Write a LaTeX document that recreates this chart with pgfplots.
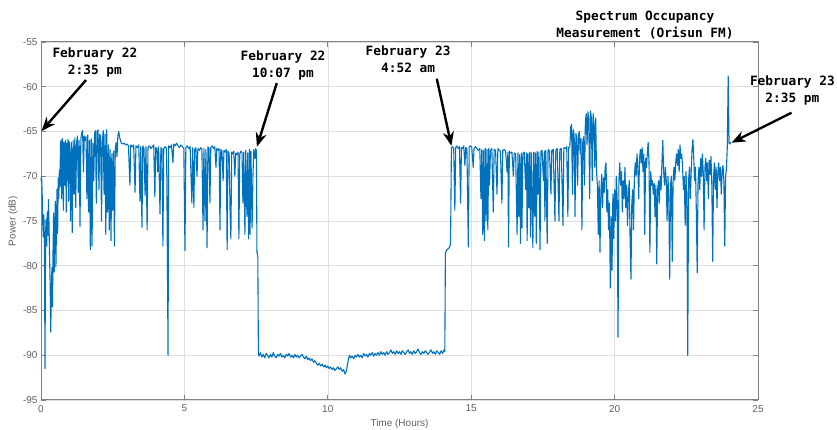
\documentclass[border=0pt]{standalone}
\usepackage{fontspec}
\setmainfont{Liberation Sans}
\newfontfamily\annofont{DejaVu Sans Mono}
\usepackage{pgfplots}
\pgfplotsset{compat=1.18}
\usetikzlibrary{arrows.meta}
\definecolor{mblue}{RGB}{0,114,189}
\definecolor{gridc}{RGB}{223,223,223}
\definecolor{axc}{RGB}{130,130,130}
\definecolor{tlc}{RGB}{95,95,95}
\begin{document}
\begin{tikzpicture}
\useasboundingbox (-41pt,-30pt) rectangle (796pt,400pt);
\begin{axis}[
  scale only axis,
  width=717pt, height=358pt,
  xmin=0, xmax=25, ymin=-95, ymax=-55,
  xtick={0,5,...,25}, ytick={-95,-90,...,-55},
  grid=major,
  major grid style={gridc, line width=0.6pt},
  axis line style={axc, line width=1pt},
  tick style={axc, line width=0.8pt},
  tick align=inside,
  major tick length=5pt,
  /pgf/number format/assume math mode=true,
  ticklabel style={font=\fontsize{10}{12}\selectfont, text=tlc},
  xticklabel style={yshift=-1.5pt},
  xlabel={Time (Hours)}, ylabel={Power (dB)},
  label style={font=\fontsize{10}{12}\selectfont, text=tlc},
  xlabel style={at={(axis description cs:0.5,-0.067)}, anchor=center},
  ylabel style={at={(axis description cs:-0.039,0.5)}, anchor=center},
  clip=false,
]
\addplot[color=mblue, line width=1.1pt, line join=round] coordinates {
(0,-70.5) (0.02,-70.0) (0.04,-71.8) (0.06,-75.2) (0.08,-76.8) (0.10,-74.3) (0.12,-77.5) (0.14,-91.5) (0.16,-76.2) (0.18,-74.8)
(0.20,-77.8) (0.22,-74.0) (0.24,-76.6) (0.26,-72.6) (0.28,-75.5) (0.30,-79.2) (0.32,-82.3) (0.34,-87.4) (0.36,-83.0) (0.38,-80.2)
(0.40,-84.6) (0.42,-78.3) (0.44,-74.1) (0.46,-80.7) (0.48,-76.2) (0.50,-72.8) (0.52,-80.1) (0.54,-75.3) (0.56,-71.4) (0.58,-76.4)
(0.60,-70.2) (0.62,-72.5) (0.64,-69.3) (0.66,-71.2) (0.68,-66.3)
(0.70,-66.0) (0.72,-72.5) (0.74,-65.8) (0.76,-66.4) (0.78,-73.8) (0.80,-66.2) (0.82,-71.0) (0.84,-66.5) (0.86,-66.0) (0.88,-74.0)
(0.90,-66.3) (0.92,-70.5) (0.94,-65.9) (0.96,-72.8) (0.98,-66.1) (1.00,-66.6) (1.03,-75.0) (1.06,-66.2) (1.09,-76.3) (1.12,-66.0)
(1.15,-72.0) (1.18,-65.7) (1.21,-73.5) (1.24,-66.3) (1.27,-65.5) (1.30,-71.8) (1.33,-66.0) (1.36,-75.6) (1.39,-65.8) (1.42,-65.2)
(1.45,-64.9) (1.48,-69.5) (1.51,-65.5) (1.54,-66.0) (1.57,-65.6) (1.60,-72.5) (1.63,-65.4) (1.66,-74.0) (1.69,-66.0) (1.72,-78.2)
(1.75,-65.8) (1.78,-77.8) (1.81,-66.3) (1.84,-70.5) (1.87,-65.2) (1.90,-64.9) (1.93,-73.0) (1.96,-65.0) (1.99,-64.8) (2.02,-71.5)
(2.05,-65.3) (2.08,-65.6) (2.11,-75.0) (2.14,-66.0) (2.17,-64.9) (2.20,-72.0) (2.23,-65.3) (2.26,-76.5) (2.29,-64.8) (2.32,-74.0)
(2.35,-66.5) (2.38,-76.0) (2.41,-67.0) (2.44,-77.2) (2.47,-67.5) (2.50,-73.8) (2.53,-67.2) (2.56,-77.8) (2.59,-67.0) (2.62,-66.2)
(2.65,-67.8) (2.68,-65.5) (2.71,-65.0) (2.74,-65.6) (2.77,-66.0) (2.80,-66.3) (2.85,-66.4) (2.90,-66.3) (2.95,-66.5)
(3.00,-66.4) (3.05,-66.6) (3.10,-71.0) (3.13,-66.5) (3.18,-66.7) (3.23,-66.5) (3.28,-71.8) (3.31,-66.6) (3.36,-66.8) (3.41,-66.5)
(3.45,-72.8) (3.48,-66.7) (3.52,-75.7) (3.55,-66.6) (3.59,-66.9) (3.63,-72.2) (3.66,-66.7) (3.70,-76.0) (3.73,-66.8) (3.78,-66.6)
(3.83,-66.9) (3.88,-66.7) (3.93,-66.5) (3.97,-72.3) (4.00,-66.8) (4.04,-66.9) (4.07,-69.5) (4.10,-66.7) (4.15,-74.2) (4.18,-66.8)
(4.22,-67.0) (4.25,-77.8) (4.28,-66.9) (4.33,-66.7) (4.38,-66.9) (4.43,-90.0) (4.45,-66.6) (4.50,-66.8) (4.55,-66.5) (4.60,-68.5)
(4.63,-66.4) (4.68,-66.6) (4.73,-66.3) (4.78,-66.6) (4.83,-66.8) (4.88,-66.5) (4.93,-66.7) (4.98,-66.9) (5.02,-78.3) (5.05,-66.8)
(5.10,-66.6) (5.15,-66.9) (5.20,-66.7) (5.26,-73.0) (5.29,-66.8) (5.33,-73.5) (5.36,-67.0) (5.40,-66.8) (5.44,-70.0) (5.47,-66.9)
(5.52,-67.1) (5.57,-66.8) (5.61,-67.0) (5.65,-76.0) (5.68,-66.9) (5.72,-75.0) (5.75,-67.0) (5.79,-78.0) (5.82,-66.7) (5.86,-66.9)
(5.89,-73.0) (5.92,-66.8) (5.97,-66.6) (6.02,-66.9) (6.06,-66.7) (6.10,-69.0) (6.13,-66.9) (6.18,-67.1) (6.21,-66.9) (6.24,-76.0)
(6.27,-67.0) (6.31,-67.2) (6.35,-70.5) (6.38,-67.1) (6.43,-67.3) (6.46,-67.0) (6.49,-78.2) (6.52,-67.2) (6.56,-67.4) (6.59,-73.5)
(6.62,-77.0) (6.65,-67.3) (6.69,-67.5) (6.72,-67.2) (6.76,-70.0) (6.79,-67.4) (6.83,-67.6) (6.87,-67.3) (6.90,-77.0) (6.93,-67.5)
(6.97,-67.2) (7.01,-67.4) (7.04,-73.0) (7.07,-67.3) (7.11,-76.5) (7.14,-67.1) (7.18,-74.5) (7.21,-67.4) (7.24,-77.0) (7.27,-67.0)
(7.29,-76.5) (7.32,-67.2) (7.36,-75.8) (7.39,-70.0) (7.42,-67.0) (7.46,-68.0) (7.49,-66.9) (7.51,-67.2)
(7.53,-78.5) (7.56,-79.0) (7.58,-89.8)
(7.60,-90.1) (7.65,-89.7) (7.70,-90.2) (7.75,-89.9) (7.80,-90.3) (7.85,-89.8) (7.90,-90.0) (7.95,-90.3) (8.00,-89.9) (8.05,-90.2)
(8.10,-89.7) (8.15,-90.1) (8.20,-90.3) (8.25,-89.9) (8.30,-90.1) (8.35,-89.8) (8.40,-90.2) (8.45,-90.0) (8.50,-90.3) (8.55,-89.9)
(8.60,-90.1) (8.65,-89.8) (8.70,-90.2) (8.75,-90.0) (8.80,-90.3) (8.85,-89.9) (8.90,-90.2) (8.95,-90.0) (9.00,-90.3) (9.05,-90.1)
(9.10,-89.9) (9.15,-90.2) (9.20,-90.4) (9.25,-90.1) (9.30,-90.5) (9.35,-90.3) (9.40,-90.6) (9.45,-90.4) (9.50,-90.8) (9.55,-90.6)
(9.60,-90.9) (9.65,-91.1) (9.70,-90.9) (9.75,-91.2) (9.80,-91.0) (9.85,-91.3) (9.90,-91.1) (9.95,-91.4) (10.00,-91.2) (10.05,-91.5)
(10.10,-91.3) (10.15,-91.6) (10.20,-91.4) (10.25,-91.7) (10.30,-91.5) (10.35,-91.3) (10.40,-91.6) (10.45,-91.4) (10.50,-91.8) (10.55,-91.6)
(10.60,-92.1) (10.65,-91.7) (10.68,-91.2) (10.72,-90.4) (10.76,-90.0) (10.80,-90.3) (10.85,-90.1) (10.90,-90.4) (10.95,-90.0) (11.00,-90.2)
(11.05,-89.9) (11.10,-90.2) (11.15,-90.0) (11.20,-90.3) (11.25,-89.8) (11.30,-90.1) (11.35,-89.9) (11.40,-90.2) (11.45,-89.8) (11.50,-90.0)
(11.55,-89.7) (11.60,-90.1) (11.65,-89.8) (11.70,-90.0) (11.75,-89.7) (11.80,-90.0) (11.85,-89.6) (11.90,-89.9) (11.95,-89.7) (12.00,-90.0)
(12.05,-89.6) (12.10,-89.9) (12.15,-89.7) (12.20,-89.4) (12.25,-89.8) (12.30,-89.6) (12.35,-89.9) (12.40,-89.5) (12.45,-89.8) (12.50,-89.6)
(12.55,-89.9) (12.60,-89.5) (12.65,-89.7) (12.70,-89.9) (12.75,-89.6) (12.80,-89.4) (12.85,-89.8) (12.90,-89.6) (12.95,-89.9) (13.00,-89.5)
(13.05,-89.8) (13.10,-89.6) (13.15,-89.3) (13.20,-89.7) (13.25,-89.9) (13.30,-89.6) (13.35,-89.8) (13.40,-89.5) (13.45,-89.7) (13.50,-89.9)
(13.55,-89.6) (13.60,-89.4) (13.65,-89.8) (13.70,-89.6) (13.75,-89.9) (13.80,-89.5) (13.85,-89.7) (13.90,-89.9) (13.95,-89.5) (14.00,-89.8)
(14.05,-89.4) (14.08,-89.6)
(14.10,-78.6) (14.15,-78.2) (14.20,-78.1) (14.25,-77.9) (14.28,-77.5) (14.31,-66.8)
(14.35,-66.7) (14.39,-66.9) (14.43,-73.8) (14.46,-66.8) (14.50,-66.6) (14.55,-66.9) (14.59,-66.7) (14.63,-73.0) (14.66,-66.8) (14.70,-66.9)
(14.74,-66.6) (14.78,-68.8) (14.81,-66.8) (14.85,-66.9) (14.90,-77.9) (14.93,-66.7) (14.97,-66.6) (15.02,-66.8) (15.07,-69.0) (15.10,-66.9)
(15.15,-66.7) (15.20,-66.9) (15.25,-67.1) (15.30,-66.9) (15.34,-72.5) (15.37,-67.0) (15.40,-76.5) (15.43,-67.1) (15.46,-77.2) (15.49,-66.9)
(15.52,-75.0) (15.55,-67.0) (15.58,-76.0) (15.61,-66.9) (15.64,-71.0) (15.67,-67.1) (15.72,-66.9) (15.77,-74.0) (15.80,-67.0) (15.85,-67.1)
(15.90,-72.0) (15.93,-66.9) (15.97,-67.1) (16.02,-67.2) (16.07,-73.0) (16.10,-67.1) (16.15,-67.0) (16.20,-67.2) (16.25,-69.5) (16.28,-67.3)
(16.30,-77.9) (16.33,-67.2) (16.37,-67.4) (16.42,-67.3) (16.47,-70.0) (16.50,-67.4) (16.55,-67.5) (16.60,-76.5) (16.63,-67.4) (16.66,-74.5)
(16.69,-67.6) (16.72,-77.5) (16.75,-67.4) (16.77,-75.8) (16.80,-67.5) (16.85,-67.3) (16.90,-71.5) (16.93,-67.4) (16.95,-77.2) (16.98,-67.5)
(17.01,-73.5) (17.04,-67.3) (17.07,-76.8) (17.10,-67.4) (17.15,-78.0) (17.18,-67.3) (17.21,-74.5) (17.24,-67.4) (17.27,-77.5) (17.30,-67.2)
(17.33,-72.0) (17.36,-67.3) (17.40,-78.2) (17.43,-67.2) (17.47,-67.1) (17.52,-70.5) (17.55,-67.2) (17.57,-75.0) (17.60,-67.1) (17.65,-77.5)
(17.68,-67.0) (17.73,-67.2) (17.78,-72.0) (17.81,-67.1) (17.86,-67.0) (17.92,-75.0) (17.95,-67.1) (18.00,-66.9) (18.03,-71.0) (18.06,-75.0)
(18.09,-67.0) (18.14,-66.9) (18.20,-75.5) (18.23,-66.8) (18.28,-66.9) (18.33,-66.7) (18.37,-74.5) (18.40,-66.8) (18.44,-66.7)
(18.47,-64.5) (18.50,-64.2) (18.53,-72.0) (18.56,-64.8) (18.59,-65.5) (18.62,-74.5) (18.65,-65.2) (18.68,-65.8) (18.71,-71.0) (18.74,-65.4)
(18.77,-65.0) (18.80,-67.5) (18.83,-65.8) (18.86,-76.0) (18.89,-66.2) (18.92,-65.6) (18.95,-71.0) (18.98,-64.0) (19.01,-63.0) (19.04,-66.5)
(19.07,-62.8) (19.10,-63.6) (19.13,-72.5) (19.16,-62.7) (19.19,-63.5) (19.22,-70.5) (19.25,-63.0) (19.28,-64.0) (19.31,-69.0) (19.34,-63.5)
(19.37,-69.5) (19.40,-71.0) (19.43,-76.5) (19.46,-70.5) (19.49,-78.5) (19.52,-72.0) (19.55,-69.8) (19.58,-73.5) (19.61,-70.2) (19.64,-71.8)
(19.67,-69.0) (19.70,-68.5) (19.73,-74.0) (19.76,-71.5) (19.79,-76.0) (19.82,-73.0) (19.85,-82.5) (19.88,-74.5) (19.91,-80.5) (19.94,-72.0)
(19.97,-77.0) (20.00,-71.5) (20.03,-75.0) (20.06,-70.0) (20.09,-72.5) (20.12,-88.0) (20.15,-70.5) (20.18,-68.5) (20.21,-71.0) (20.24,-69.5)
(20.27,-74.0) (20.30,-70.5) (20.33,-72.5) (20.36,-69.0) (20.39,-73.5) (20.42,-71.0) (20.45,-75.5) (20.48,-72.0) (20.51,-70.5) (20.54,-77.0)
(20.57,-81.5) (20.60,-73.0) (20.63,-71.5) (20.66,-76.0) (20.69,-70.0) (20.72,-68.5) (20.75,-70.0) (20.78,-67.5) (20.81,-69.0) (20.84,-72.5)
(20.87,-68.0) (20.90,-67.0) (20.93,-68.5) (20.96,-66.8) (20.99,-69.5) (21.02,-67.5) (21.05,-76.5) (21.08,-68.0) (21.11,-69.0) (21.14,-67.5)
(21.17,-66.2) (21.20,-68.5) (21.23,-78.5) (21.26,-69.5) (21.29,-71.0) (21.32,-70.5) (21.35,-72.0) (21.38,-70.8) (21.41,-74.5) (21.44,-71.0)
(21.47,-79.8) (21.50,-71.5) (21.53,-70.5) (21.56,-73.0) (21.59,-70.0) (21.62,-71.5) (21.65,-68.5) (21.68,-66.0) (21.71,-69.5) (21.74,-71.0)
(21.77,-69.0) (21.80,-70.5) (21.83,-75.0) (21.86,-70.0) (21.89,-72.5) (21.92,-81.5) (21.95,-71.0) (21.98,-70.0) (22.01,-79.5) (22.04,-70.5)
(22.07,-69.0) (22.10,-70.5) (22.13,-68.5) (22.16,-67.5) (22.19,-68.8) (22.22,-67.0) (22.25,-69.5) (22.28,-66.5) (22.31,-68.0) (22.34,-67.5)
(22.37,-69.0) (22.40,-71.5) (22.43,-70.0) (22.46,-75.5) (22.49,-69.5) (22.52,-72.0) (22.55,-90.0) (22.58,-70.5) (22.61,-69.0) (22.64,-72.5)
(22.67,-69.5) (22.70,-67.0) (22.73,-65.9) (22.76,-68.0) (22.79,-70.5) (22.82,-69.0) (22.85,-74.0) (22.88,-80.8) (22.91,-70.5) (22.94,-69.0)
(22.97,-71.5) (23.00,-68.0) (23.03,-70.0) (23.06,-67.5) (23.09,-69.5) (23.12,-76.0) (23.15,-69.0) (23.18,-68.0) (23.21,-70.5) (23.24,-68.5)
(23.27,-72.5) (23.30,-68.2) (23.33,-69.8) (23.36,-67.8) (23.39,-71.0) (23.42,-79.5) (23.45,-70.0) (23.48,-68.5) (23.51,-71.5) (23.54,-69.0)
(23.57,-73.5) (23.60,-69.5) (23.63,-68.5) (23.66,-70.5) (23.69,-69.0) (23.72,-72.0) (23.75,-69.5) (23.78,-68.8) (23.81,-70.5) (23.84,-77.8)
(23.87,-70.0) (23.90,-69.2) (23.93,-66.6) (23.96,-58.8) (23.99,-66.3) (24.02,-66.4) (24.05,-66.2)
};
% annotations
\tikzset{ann/.style={font=\annofont\bfseries\fontsize{12.8}{16.7}\selectfont, align=center, anchor=center, inner sep=0pt},
         arr/.style={line width=2.4pt, -{Stealth[length=14pt,width=11pt]}}}
\node[ann] at (axis cs:1.88,-57.3) {February 22\\2:35 pm};
\draw[arr] (axis cs:1.57,-59.25) -- (axis cs:0.02,-64.95);
\node[ann] at (axis cs:8.44,-57.6) {February 22\\10:07 pm};
\draw[arr] (axis cs:8.22,-59.6) -- (axis cs:7.53,-66.7);
\node[ann] at (axis cs:12.8,-56.9) {February 23\\4:52 am};
\draw[arr] (axis cs:13.8,-59.1) -- (axis cs:14.31,-66.6);
\node[ann] at (axis cs:26.2,-60.4) {February 23\\2:35 pm};
\draw[arr] (axis cs:26.17,-62.9) -- (axis cs:24.08,-66.25);
\node[ann] at (axis cs:21.06,-53.1) {Spectrum Occupancy\\Measurement (Orisun FM)};
\end{axis}
\end{tikzpicture}
\end{document}
